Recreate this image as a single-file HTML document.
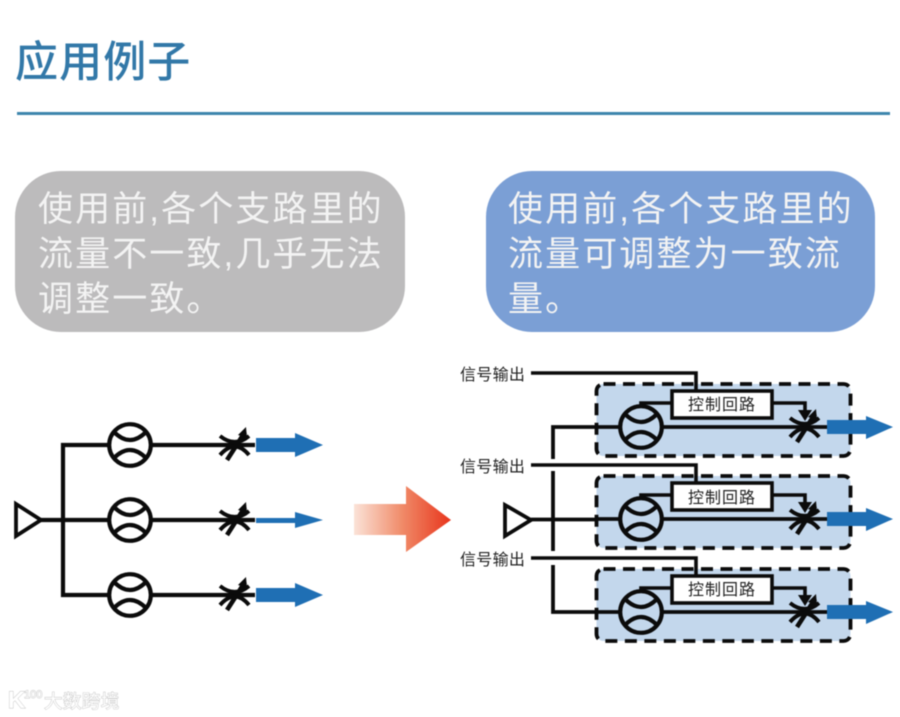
<!DOCTYPE html>
<html lang="zh">
<head>
<meta charset="utf-8">
<style>
html,body{margin:0;padding:0;background:#fff;width:900px;height:717px;overflow:hidden}
svg{display:block;font-family:"Liberation Sans","Noto Sans CJK SC",sans-serif;filter:blur(.45px)}
</style>
</head>
<body>
<svg width="900" height="717" viewBox="0 0 900 717" xmlns="http://www.w3.org/2000/svg">
<defs>
<linearGradient id="g" x1="0" x2="1" y1="0" y2="0">
<stop offset="0" stop-color="#fbe3d8"/>
<stop offset=".5" stop-color="#f08a68"/>
<stop offset="1" stop-color="#e8351c"/>
</linearGradient>
<g id="meter" fill="none" stroke="#0b0b0b" stroke-width="4.2">
<circle r="20.8" fill="none"/>
<path d="M-16-13Q0 3 16-13M-16 13Q0-3 16 13"/>
</g>
<g id="valve" fill="none" stroke="#0b0b0b">
<path stroke-width="4" d="M-15-9Q0 3 14-9M-15 10Q0-7 14 10"/>
<path stroke-width="4.6" d="M-8 15L10-13"/>
<path d="M3-10L11-18L12-7Z" fill="#0b0b0b" stroke="none"/>
</g>
<g id="ctl">
<rect x="596.5" y="384" width="254" height="72" rx="7" fill="#c3d7ec" stroke="#0b0b0b" stroke-width="3.8" stroke-dasharray="12 7.5"/>
<path d="M531 373H696V391" fill="none" stroke="#0b0b0b" stroke-width="3.6"/>
<path d="M641 406V403H672M773 403H805V414" fill="none" stroke="#0b0b0b" stroke-width="3.6"/>
<path d="M798 410H812L805 421Z" fill="#0b0b0b"/>
<rect x="672" y="391" width="100" height="27" fill="#fff" stroke="#0b0b0b" stroke-width="3.6"/>
<path d="M596 427H620M662 427H827" stroke="#0b0b0b" stroke-width="3.8"/>
<use href="#meter" x="641" y="427"/>
<use href="#valve" x="805" y="427"/>
<path d="M827 420H866V416L893 427L866 439V434H827Z" fill="#1f6fb4"/>
</g>
</defs>

<rect width="900" height="717" fill="#fff"/>

<text x="15" y="77" font-size="43" font-weight="500" fill="#3278a8" letter-spacing="1.1">应用例子</text>
<rect x="17" y="112" width="873" height="3" fill="#3e86ad"/>

<rect x="15" y="171" width="390" height="161" rx="46" fill="#bcbbbc"/>
<rect x="486" y="171" width="389" height="161" rx="46" fill="#7b9fd5"/>
<g font-size="35" fill="#f3f3f3" letter-spacing="2.1">
<text x="38" y="221">使用前,各个支路里的</text>
<text x="38" y="266">流量不一致,几乎无法</text>
<text x="38" y="311">调整一致。</text>
<text x="508" y="221">使用前,各个支路里的</text>
<text x="508" y="266">流量可调整为一致流</text>
<text x="508" y="311">量。</text>
</g>

<!-- left circuit -->
<g fill="none" stroke="#0b0b0b" stroke-width="4.2">
<path d="M16 504V536L41 520Z" stroke-width="3.8"/>
<path d="M41 520H109M151 520H255M255 445H151M109 445H63V595H109M151 595H255"/>
</g>
<use href="#meter" x="130" y="445"/>
<use href="#meter" x="130" y="520"/>
<use href="#meter" x="130" y="595"/>
<use href="#valve" x="235" y="445"/>
<use href="#valve" x="235" y="520"/>
<use href="#valve" x="235" y="595"/>
<path d="M256 438H295V433L323 445L295 457V452H256Z" fill="#1f6fb4"/>
<path d="M256 518H295V512L323 520L295 528V523H256Z" fill="#1f6fb4"/>
<path d="M256 588H295V583L323 595L295 607V602H256Z" fill="#1f6fb4"/>

<!-- big arrow -->
<path d="M354 504H406V486L451 520L406 552V535H354Z" fill="url(#g)"/>

<!-- right circuit -->
<use href="#ctl"/>
<use href="#ctl" y="92"/>
<use href="#ctl" y="185"/>
<g fill="none" stroke="#0b0b0b" stroke-width="3.8">
<path d="M505 505V536L531 520Z"/>
<path d="M531 519.5H597M597 427H553V459M553 471V551M553 565V612H597"/>
</g>
<g font-size="16" fill="#222" letter-spacing=".3">
<text x="460" y="380">信号输出</text>
<text x="460" y="472">信号输出</text>
<text x="460" y="565">信号输出</text>
</g>
<g font-size="16" fill="#222" letter-spacing="1">
<text x="688" y="410">控制回路</text>
<text x="688" y="503">控制回路</text>
<text x="688" y="595">控制回路</text>
</g>

<!-- watermark -->
<g fill="#fff" stroke="#c4c4c4" stroke-width=".9" paint-order="stroke">
<text x="8" y="708" font-size="24" font-weight="700">K</text>
<text x="24" y="698" font-size="11">100</text>
<text x="44" y="708" font-size="18.5" letter-spacing="0.4">大数跨境</text>
</g>
</svg>
</body>
</html>
